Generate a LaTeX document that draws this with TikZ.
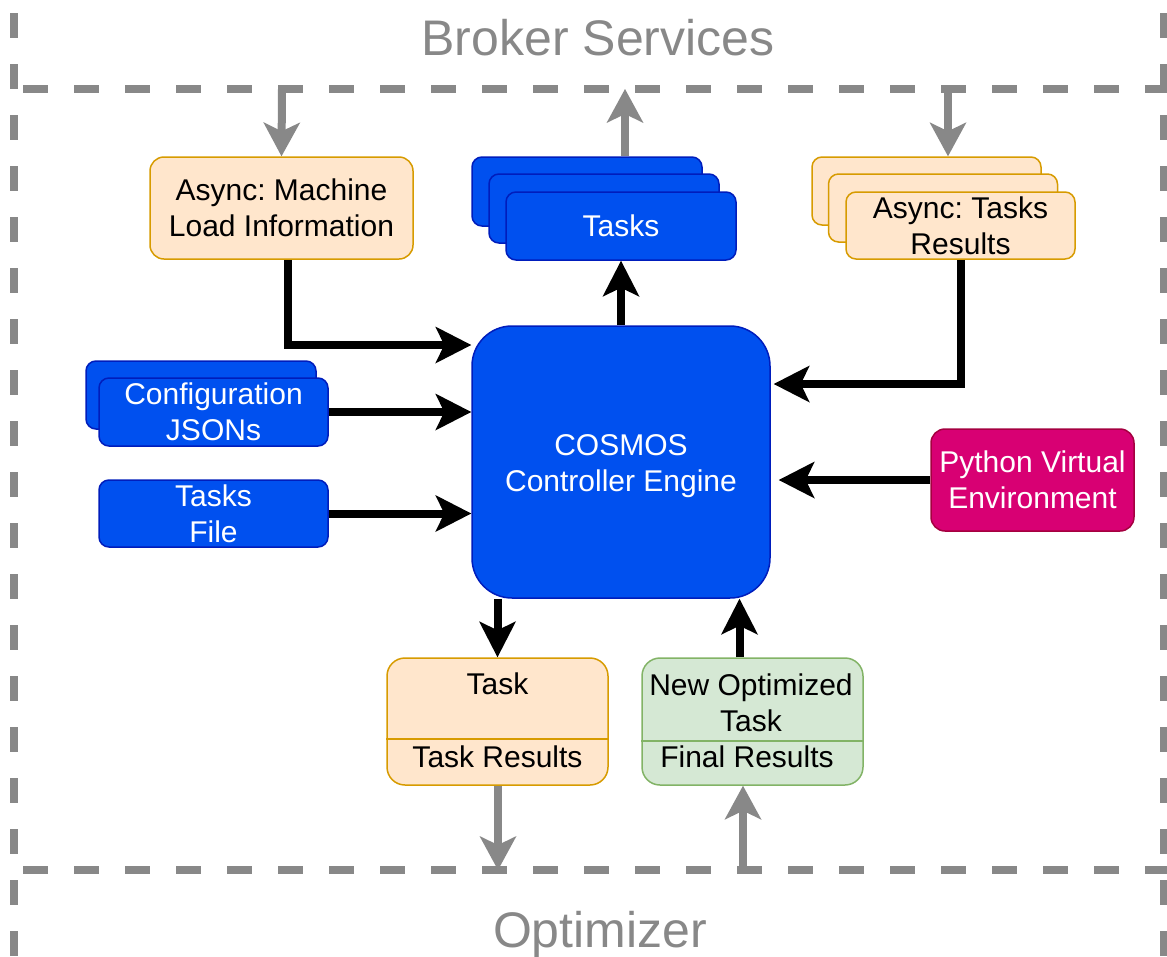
\documentclass[tikz,border=0pt]{standalone}
\usepackage{fontspec}
\setmainfont{Liberation Sans}
\usetikzlibrary{arrows.meta,calc}
\frenchspacing

\definecolor{blueF}{HTML}{0050EF}
\definecolor{blueD}{HTML}{001DBC}
\definecolor{orF}{HTML}{FFE6CC}
\definecolor{orD}{HTML}{D79B00}
\definecolor{grF}{HTML}{D5E8D4}
\definecolor{grD}{HTML}{82B366}
\definecolor{mgF}{HTML}{D80073}
\definecolor{mgD}{HTML}{A50040}
\definecolor{frame}{HTML}{888888}

\begin{document}
\begin{tikzpicture}[x=1pt,y=-1pt,
  box/.style={draw, line width=1.5pt, rounded corners=10pt, inner sep=0pt,
    align=center, font=\fontsize{30}{36}\selectfont},
  bluebox/.style={box, fill=blueF, draw=blueD, text=white},
  orbox/.style={box, fill=orF, draw=orD},
  grbox/.style={box, fill=grF, draw=grD},
  mgbox/.style={box, fill=mgF, draw=mgD, text=white},
  txt/.style={inner sep=0pt, align=center, font=\fontsize{30}{36}\selectfont},
  title/.style={inner sep=0pt, text=frame, font=\fontsize{50}{60}\selectfont},
  border/.style={draw=frame, line width=8pt, dash pattern=on 25pt off 26pt},
  garr/.style={draw=frame, line width=8pt,
    -{Stealth[length=34pt,width=37pt,inset=9pt,line width=0pt]}},
  barr/.style={draw=black, line width=8pt,
    -{Stealth[length=36pt,width=37pt,inset=9pt,line width=0pt]}},
]
\useasboundingbox (0,0) rectangle (1167,956);

% container borders (broker services / engine / optimizer)
\draw[border] (14,13) -- (14,980);
\draw[border] (1164,13) -- (1164,980);
\draw[border] (23,89) -- (1190,89);
\draw[border] (23,870) -- (1190,870);

\node[title, anchor=base] (broker) at (598,55) {Broker Services};
\node[title, anchor=base] (optimizer) at (600,947) {Optimizer};

% ports on the container borders
\coordinate (bk1) at (282,89);
\coordinate (bk2) at (625,89);
\coordinate (bk3) at (948,89);
\coordinate (op1) at (498,870);
\coordinate (op2) at (743,870);

% central engine
\node[bluebox, rounded corners=40pt, minimum width=298pt, minimum height=272pt]
  (cosmos) at (621,462) {};
\node[txt, text=white] (cosmosT) at (621,466) {COSMOS\\Controller Engine};

% machine load information
\node[orbox, rounded corners=14pt, minimum width=263pt, minimum height=102pt]
  (aml) at (281.5,208) {Async: Machine\\Load Information};

% stacked tasks
\node[bluebox, minimum width=230pt, minimum height=69pt] (tasksA) at (587,191.5) {};
\node[bluebox, minimum width=230pt, minimum height=69pt] (tasksB) at (604,208.5) {};
\node[bluebox, minimum width=230pt, minimum height=68pt] (tasks) at (621,226) {Tasks};

% stacked async task results
\node[orbox, minimum width=229pt, minimum height=68pt] (atrA) at (926.5,191) {};
\node[orbox, minimum width=229pt, minimum height=68pt] (atrB) at (943,208) {};
\node[orbox, minimum width=229pt, minimum height=67pt] (atr) at (960.5,225.5) {Async: Tasks\\Results};

% configuration files
\node[bluebox, minimum width=230pt, minimum height=68pt] (cfgA) at (201,395) {};
\node[bluebox, minimum width=229pt, minimum height=68pt] (cfg) at (213.5,412) {Configuration\\JSONs};
\node[bluebox, minimum width=229pt, minimum height=67pt] (tfile) at (213.5,513.5) {Tasks\\File};

% python environment
\node[mgbox, rounded corners=14pt, minimum width=203pt, minimum height=102pt]
  (py) at (1032.5,480) {Python Virtual\\Environment};

% task / results panels
\node[orbox, rounded corners=18pt, minimum width=221pt, minimum height=127pt] (task) at (497.5,721.5) {};
\draw[orD, line width=1.5pt] ($(task.south west)+(0,-47)$) -- ($(task.south east)+(0,-47)$);
\node[txt] (taskT) at (497.5,684) {Task};
\node[txt] (taskR) at (497.5,757) {Task Results};

\node[grbox, rounded corners=18pt, minimum width=221pt, minimum height=127pt] (fin) at (752.5,721.5) {};
\draw[grD, line width=1.5pt] ($(fin.south west)+(0,-45)$) -- ($(fin.south east)+(0,-45)$);
\node[txt] (finT) at (751,702.5) {New Optimized\\Task};
\node[txt] (finR) at (747,757) {Final Results};

% gray links with the outer services
\draw[garr] (bk1) -- (aml.north);
\draw[garr] (tasksA.north -| bk2) -- (bk2);
\draw[garr] (bk3) -- (atrA.north -| bk3);
\draw[garr] (task.south -| op1) -- (op1);
\draw[garr] (op2) -- (fin.south -| op2);

% black links with the engine
\draw[barr] ([xshift=6.5pt]aml.south) |- ([yshift=117pt]cosmos.west);
\draw[barr] (cfg.east) -- (cfg.east -| cosmos.west);
\draw[barr] (tfile.east) -- (tfile.east -| cosmos.west);
\draw[barr] (cosmos.north) -- (tasks.south);
\draw[barr] (atr.south) |- ([yshift=78pt,xshift=3pt]cosmos.east);
\draw[barr] (py.west) -- ([xshift=8pt]py.west -| cosmos.east);
\draw[barr] (task.north |- cosmos.south) -- (task.north);
\coordinate (fup) at ([xshift=-13pt]fin.north);
\draw[barr] (fup) -- (fup |- cosmos.south);
\end{tikzpicture}
\end{document}
